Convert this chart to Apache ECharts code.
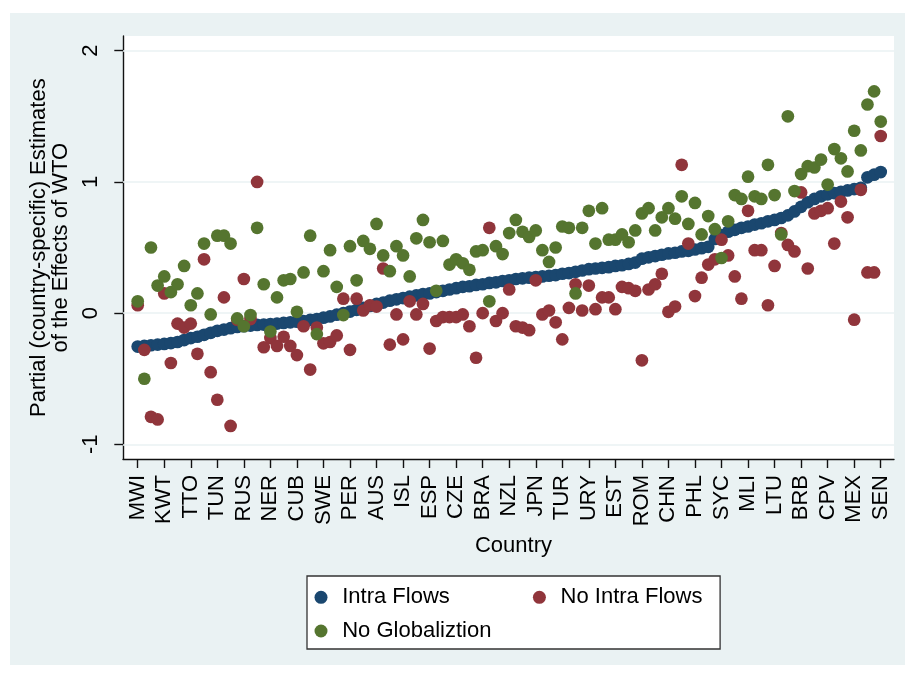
<!DOCTYPE html>
<html>
<head>
<meta charset="utf-8">
<script src="https://cdn.jsdelivr.net/npm/echarts@6/dist/echarts.min.js"></script>
<style>
  html, body { margin: 0; padding: 0; background: #fff; }
  #chart { width: 915px; height: 675px; }
</style>
</head>
<body>
<div id="chart"></div>
<script>
// Country codes shown on the x axis (every fourth country, index 0, 4, 8, ...)
const tickLabels = ['MWI','KWT','TTO','TUN','RUS','NER','CUB','SWE','PER','AUS','ISL','ESP','CZE','BRA',
  'NZL','JPN','TUR','URY','EST','ROM','CHN','PHL','SYC','MLI','LTU','BRB','CPV','MEX','SEN'];
const labelStep = 4;

// Estimates per country, countries ordered by the "Intra Flows" estimate
const intraFlows = [
  -0.255,-0.25,-0.245,-0.24,-0.235,-0.228,-0.22,-0.205,-0.19,-0.18,
  -0.165,-0.15,-0.135,-0.125,-0.115,-0.105,-0.1,-0.095,-0.09,-0.087,
  -0.083,-0.08,-0.075,-0.07,-0.065,-0.06,-0.052,-0.045,-0.035,-0.025,
  -0.012,0.0,0.012,0.025,0.04,0.055,0.07,0.08,0.095,0.105,
  0.115,0.125,0.135,0.145,0.15,0.16,0.17,0.18,0.19,0.2,
  0.205,0.215,0.22,0.23,0.235,0.245,0.25,0.26,0.265,0.27,
  0.275,0.28,0.285,0.29,0.3,0.305,0.315,0.325,0.335,0.34,
  0.345,0.35,0.36,0.365,0.375,0.385,0.415,0.425,0.435,0.445,
  0.455,0.46,0.47,0.475,0.485,0.495,0.505,0.565,0.595,0.62,
  0.635,0.65,0.66,0.675,0.685,0.7,0.71,0.725,0.745,0.775,
  0.81,0.845,0.87,0.89,0.905,0.915,0.925,0.935,0.945,0.955,
  1.035,1.055,1.075
];
const noIntraFlows = [
  0.06,-0.28,-0.79,-0.81,0.15,-0.38,-0.08,-0.11,-0.08,-0.31,
  0.41,-0.45,-0.66,0.12,-0.86,-0.05,0.26,-0.045,1.0,-0.26,
  -0.19,-0.25,-0.18,-0.25,-0.32,-0.1,-0.43,-0.11,-0.23,-0.22,
  -0.17,0.11,-0.28,0.11,0.02,0.06,0.05,0.34,-0.24,-0.01,
  -0.2,0.09,-0.01,0.07,-0.27,-0.06,-0.03,-0.03,-0.03,-0.01,
  -0.1,-0.34,0.0,0.65,-0.06,0.0,0.18,-0.1,-0.11,-0.13,
  0.25,-0.01,0.02,-0.07,-0.2,0.04,0.22,0.02,0.21,0.03,
  0.12,0.12,0.03,0.2,0.19,0.17,-0.36,0.18,0.22,0.3,
  0.01,0.05,1.13,0.53,0.13,0.27,0.37,0.41,0.56,0.44,
  0.28,0.11,0.78,0.48,0.48,0.06,0.36,0.61,0.52,0.47,
  0.92,0.34,0.76,0.78,0.8,0.53,0.85,0.73,-0.05,0.94,
  0.31,0.31,1.35
];
const noGlobalization = [
  0.09,-0.5,0.5,0.21,0.28,0.16,0.22,0.36,0.06,0.15,
  0.53,-0.01,0.59,0.59,0.53,-0.04,-0.1,-0.015,0.65,0.22,
  -0.14,0.12,0.25,0.26,0.01,0.31,0.59,-0.16,0.32,0.48,
  0.2,-0.015,0.51,0.25,0.55,0.49,0.68,0.44,0.32,0.51,
  0.44,0.28,0.57,0.71,0.54,0.17,0.55,0.37,0.41,0.38,
  0.33,0.47,0.48,0.09,0.51,0.45,0.61,0.71,0.62,0.58,
  0.63,0.48,0.39,0.5,0.66,0.65,0.15,0.65,0.78,0.53,
  0.8,0.56,0.56,0.6,0.54,0.63,0.76,0.8,0.63,0.73,
  0.8,0.72,0.89,0.68,0.84,0.6,0.74,0.64,0.42,0.7,
  0.9,0.87,1.04,0.89,0.87,1.13,0.9,0.6,1.5,0.93,
  1.06,1.12,1.11,1.17,0.98,1.25,1.18,1.08,1.39,1.24,
  1.59,1.69,1.46
];
const yTicks = [-1, 0, 1, 2];

const FONT = '"Liberation Sans", Arial, Helvetica, sans-serif';
const NAVY = '#1A476F', MAROON = '#90353B', FOREST = '#55752F';
const BG = '#EAF2F3';

const toPoints = arr => arr.map((v, i) => [i, v]);
const xTickValues = tickLabels.map((_, k) => k * labelStep);

const chart = echarts.init(document.getElementById('chart'), null, { renderer: 'canvas' });

const markerSize = 12.7;
const scatter = (name, values, color, extra) => Object.assign({
  name, type: 'scatter', data: toPoints(values), symbol: 'circle', symbolSize: markerSize,
  itemStyle: { color, opacity: 1 }, emphasis: { disabled: true }, z: 2
}, extra || {});

chart.setOption({
  animation: false,
  backgroundColor: '#fff',
  textStyle: { fontFamily: FONT },
  graphic: { elements: [
    { type: 'rect', z: -100, shape: { x: 10, y: 13, width: 895, height: 652 },
      style: { fill: BG }, silent: true }
  ]},
  grid: {
    left: 123, top: 36, width: 771, height: 423.3,
    show: true, backgroundColor: '#fff', borderWidth: 0, containLabel: false
  },
  xAxis: {
    type: 'value', min: -2.216, max: 114.0,
    axisLine: { show: true, onZero: false, lineStyle: { color: '#111', width: 1.4 } },
    axisTick: { show: true, customValues: xTickValues, length: 8.7, lineStyle: { color: '#111', width: 1.4 } },
    axisLabel: {
      show: true, customValues: xTickValues, rotate: 90, margin: 15.7,
      fontSize: 22, fontFamily: FONT, color: '#000',
      formatter: v => tickLabels[Math.round(v / labelStep)] || ''
    },
    splitLine: { show: false },
    name: 'Country', nameLocation: 'middle', nameGap: 75.7,
    nameTextStyle: { fontSize: 22, fontFamily: FONT, color: '#000', padding: [0, 0, 0, 10] }
  },
  yAxis: {
    type: 'value', min: -1.114, max: 2.112,
    axisLine: { show: true, onZero: false, lineStyle: { color: '#111', width: 1.4 } },
    axisTick: { show: true, customValues: yTicks, length: 8.7, lineStyle: { color: '#111', width: 1.4 } },
    axisLabel: {
      show: true, customValues: yTicks, rotate: 90, margin: 21,
      fontSize: 22, fontFamily: FONT, color: '#000'
    },
    splitLine: { show: false },
    name: 'Partial (country-specific) Estimates\nof the Effects of WTO',
    nameLocation: 'middle', nameRotate: 90, nameGap: 50,
    nameTextStyle: { fontSize: 22, fontFamily: FONT, color: '#000', lineHeight: 22, align: 'center' }
  },
  legend: {
    left: 307, top: 576, width: 400,
    padding: [4.8, 9.5, 1.5, 7.5], itemGap: 0.7,
    itemWidth: 13, itemHeight: 13, icon: 'circle',
    backgroundColor: '#fff', borderColor: '#333', borderWidth: 1.3, borderRadius: 0,
    selectedMode: false,
    textStyle: { fontSize: 22, fontFamily: FONT, color: '#000', lineHeight: 33, padding: [0, 0, 0, 9.7] },
    data: [
      { name: 'Intra Flows', textStyle: { width: 190 } },
      { name: 'No Intra Flows', textStyle: { width: 150 } },
      { name: 'No Globaliztion', textStyle: { width: 190 } }
    ]
  },
  series: [
    scatter('Intra Flows', intraFlows, NAVY, {
      markLine: {
        silent: true, z: 1, symbol: 'none', animation: false,
        label: { show: false },
        lineStyle: { color: BG, width: 1.6, type: 'solid' },
        emphasis: { disabled: true },
        data: yTicks.map(v => ({ yAxis: v }))
      }
    }),
    scatter('No Intra Flows', noIntraFlows, MAROON, { z: 3 }),
    scatter('No Globaliztion', noGlobalization, FOREST, { z: 4 })
  ]
});
</script>
</body>
</html>
